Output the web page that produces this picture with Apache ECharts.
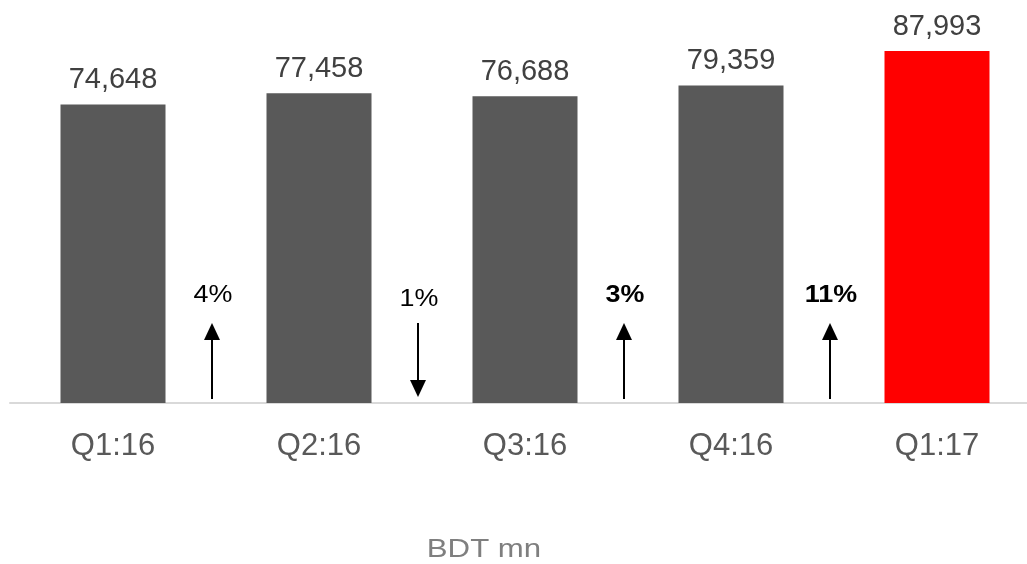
<!DOCTYPE html>
<html>
<head>
<meta charset="utf-8">
<script src="https://cdn.jsdelivr.net/npm/echarts@6/dist/echarts.min.js"></script>
<style>
  html, body { margin: 0; padding: 0; background: #ffffff; }
  #chart { width: 1027px; height: 564px; }
</style>
</head>
<body>
<div id="chart"></div>
<script>
// Quarterly figures, BDT mn
const quarters = ['Q1:16', 'Q2:16', 'Q3:16', 'Q4:16', 'Q1:17'];
const values = [74648, 77458, 76688, 79359, 87993];
const barColors = ['#595959', '#595959', '#595959', '#595959', '#ff0000'];

// Quarter-on-quarter change, drawn between neighbouring bars
const changeLabels = ['4%', '1%', '3%', '11%'];
const changeDirections = ['up', 'down', 'up', 'up'];
const changeBold = [false, false, true, true];

const FONT = '"Liberation Sans", Arial, sans-serif';

const chart = echarts.init(document.getElementById('chart'), null, { renderer: 'canvas' });

const changeData = changeLabels.map((t, i) => [i, 0, changeDirections[i], t, changeBold[i] ? 1 : 0]);

function renderChange(params, api) {
  const idx = api.value(0);
  const item = changeData[params.dataIndex];
  const dir = item[2];
  const text = item[3];
  const bold = item[4] === 1;
  const base = api.coord([idx, 0]);
  const band = api.size([1, 0])[0];
  const x = Math.round(base[0] + band * 0.48);
  const y0 = base[1];
  const lineTop = y0 - 80;
  const lineBot = y0 - 4;
  const headH = 17, headW = 8;
  const children = [];
  if (dir === 'up') {
    children.push({
      type: 'line',
      shape: { x1: x, y1: lineBot, x2: x, y2: lineTop + headH - 2 },
      style: { stroke: '#000000', lineWidth: 2 }
    });
    children.push({
      type: 'polygon',
      shape: { points: [[x, lineTop], [x - headW, lineTop + headH], [x + headW, lineTop + headH]] },
      style: { fill: '#000000' }
    });
  } else {
    children.push({
      type: 'line',
      shape: { x1: x, y1: lineTop, x2: x, y2: lineBot - headH + 2 },
      style: { stroke: '#000000', lineWidth: 2 }
    });
    children.push({
      type: 'polygon',
      shape: { points: [[x, lineBot - 2], [x - headW, lineBot - headH - 2], [x + headW, lineBot - headH - 2]] },
      style: { fill: '#000000' }
    });
  }
  const ty = y0 - 108 + (dir === 'down' ? 4 : 0);
  children.push({
    type: 'text',
    x: x + 1,
    y: ty,
    scaleX: 1.12,
    style: {
      x: 0,
      y: 0,
      text: text,
      fill: '#000000',
      fontSize: 24,
      fontWeight: bold ? 'bold' : 'normal',
      fontFamily: FONT,
      align: 'center',
      verticalAlign: 'middle'
    }
  });
  return { type: 'group', children: children };
}

chart.setOption({
  animation: false,
  backgroundColor: '#ffffff',
  graphic: [{
    type: 'text',
    x: 484,
    y: 550,
    scaleX: 1.2,
    style: {
      text: 'BDT mn',
      fill: '#7f7f7f',
      fontSize: 26,
      fontFamily: FONT,
      align: 'center',
      verticalAlign: 'middle'
    }
  }],
  grid: { left: 10, top: 3, width: 1030, height: 400, outerBoundsMode: 'none', containLabel: false },
  xAxis: {
    type: 'category',
    data: quarters,
    axisLine: { lineStyle: { color: '#d9d9d9', width: 2 } },
    axisTick: { show: false },
    axisLabel: { color: '#595959', fontSize: 31, fontFamily: FONT, margin: 28 }
  },
  yAxis: {
    type: 'value',
    min: 0,
    max: 100000,
    show: false,
    splitLine: { show: false }
  },
  series: [
    {
      type: 'bar',
      barWidth: 105,
      data: values.map((v, i) => ({ value: v, itemStyle: { color: barColors[i] } })),
      label: {
        show: true,
        position: 'top',
        distance: 10,
        color: '#404040',
        fontSize: 29,
        fontFamily: FONT,
        formatter: p => p.value.toLocaleString('en-US')
      }
    },
    {
      type: 'custom',
      renderItem: renderChange,
      data: changeData,
      encode: { x: 0, y: 1 },
      z: 5
    }
  ]
});
</script>
</body>
</html>
